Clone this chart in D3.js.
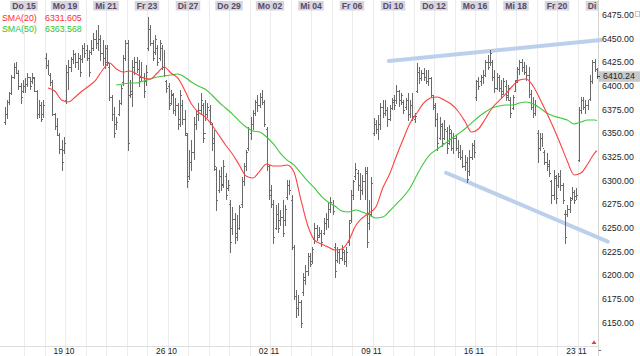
<!DOCTYPE html>
<html><head><meta charset="utf-8">
<script src="https://cdn.jsdelivr.net/npm/d3@7"></script>
<style>
body{margin:0;background:#fff}
svg{display:block}
text{font-family:"Liberation Sans",Arial,sans-serif}
</style>
</head><body>
<svg id="chart" width="640" height="356"></svg>
<script>
// ---------------- DATA ----------------
const dayLabels = ["Mi 14","Do 15","Fr 16","Mo 19","Di 20","Mi 21","Do 22","Fr 23","Mo 26","Di 27",
  "Mi 28","Do 29","Fr 30","Mo 02","Di 03","Mi 04","Do 05","Fr 06","Mo 09","Di 10",
  "Mi 11","Do 12","Fr 13","Mo 16","Di 17","Mi 18","Do 19","Fr 20","Mo 23","Di 24"];
const weekLabels = ["19 10","26 10","02 11","09 11","16 11","23 11"];
const weekLabelDays = [3, 8, 13, 18, 23, 28];
const barsPerDay = 9;
const yTicks = [6475,6450,6425,6400,6375,6350,6325,6300,6275,6250,6225,6200,6175,6150];

const barHigh = [
6378,6385,6394,6412,6424,6425,6417,6403,6406,
6408,6414,6410,6414,6410,6396,6385,6383,6385,
6435,6427,6414,6406,6371,6366,6350,6343,6346,
6422,6427,6431,6438,6435,6435,6433,6443,6445,
6443,6438,6449,6456,6459,6464,6454,6449,6443,
6443,6424,6391,6378,6367,6385,6401,6433,6449,
6449,6406,6427,6431,6431,6427,6425,6414,6422,
6473,6464,6449,6454,6443,6449,6443,6438,6406,
6403,6396,6393,6387,6382,6396,6385,6375,6350,
6332,6343,6367,6375,6382,6393,6382,6385,6382,
6380,6361,6354,6314,6311,6314,6322,6308,6301,
6280,6272,6266,6264,6274,6304,6319,6332,6357,
6367,6375,6385,6391,6393,6396,6385,6357,6317,
6295,6280,6274,6276,6269,6280,6274,6301,6301,
6285,6232,6185,6179,6174,6202,6211,6224,6224,
6230,6255,6253,6251,6248,6261,6266,6276,6283,
6280,6234,6230,6227,6232,6227,6230,6258,6290,
6301,6319,6311,6308,6306,6314,6314,6280,6304,
6366,6364,6369,6382,6385,6385,6378,6380,6387,
6391,6401,6396,6393,6385,6387,6393,6385,6393,
6371,6424,6420,6417,6419,6417,6417,6410,6391,
6382,6371,6367,6361,6364,6357,6359,6354,6350,
6348,6343,6338,6332,6327,6325,6332,6340,6343,
6406,6410,6412,6417,6427,6433,6438,6427,6417,
6414,6412,6406,6408,6406,6401,6388,6391,6406,
6420,6427,6429,6425,6422,6420,6396,6388,6385,
6354,6350,6350,6332,6329,6322,6301,6311,6306,
6308,6311,6298,6269,6274,6283,6293,6290,6292,
6378,6388,6388,6385,6385,6412,6427,6429,6419];
const barLow = [
6359,6366,6380,6391,6408,6413,6396,6382,6393,
6393,6399,6396,6403,6394,6366,6367,6362,6367,
6419,6412,6401,6369,6354,6348,6329,6311,6329,
6382,6396,6415,6424,6420,6417,6410,6425,6430,
6427,6410,6433,6438,6440,6438,6427,6422,6419,
6422,6385,6364,6346,6354,6369,6380,6401,6427,
6332,6388,6378,6412,6414,6399,6406,6388,6401,
6438,6443,6427,6433,6422,6427,6417,6410,6393,
6375,6380,6371,6369,6354,6357,6359,6348,6293,
6301,6311,6322,6354,6364,6371,6340,6364,6367,
6359,6332,6311,6269,6287,6290,6293,6280,6290,
6224,6243,6234,6237,6248,6272,6295,6311,6332,
6343,6354,6369,6373,6377,6380,6357,6311,6280,
6272,6234,6248,6245,6253,6241,6253,6280,6285,
6227,6174,6156,6158,6145,6179,6190,6200,6209,
6213,6234,6237,6240,6230,6243,6248,6251,6266,
6264,6198,6214,6213,6216,6211,6209,6232,6256,
6280,6301,6290,6280,6285,6280,6229,6248,6262,
6348,6350,6343,6354,6367,6369,6357,6364,6375,
6375,6382,6378,6380,6371,6375,6364,6367,6364,
6361,6393,6403,6406,6406,6403,6401,6388,6375,
6357,6332,6343,6336,6343,6329,6338,6332,6329,
6332,6325,6322,6314,6311,6298,6306,6322,6325,
6385,6396,6401,6403,6410,6417,6422,6406,6393,
6396,6394,6388,6391,6385,6385,6367,6375,6394,
6404,6412,6415,6412,6406,6388,6375,6367,6369,
6319,6332,6336,6317,6311,6304,6276,6280,6276,
6293,6290,6276,6234,6262,6266,6280,6276,6280,
6320,6371,6375,6371,6375,6385,6403,6415,6408];
const barOpen = [
6362,6370,6383,6393,6410,6420,6414,6400,6395,
6400,6402,6410,6405,6408,6395,6370,6380,6370,
6430,6422,6412,6404,6370,6358,6348,6333,6332,
6385,6415,6420,6428,6434,6425,6430,6428,6440,
6438,6430,6436,6440,6450,6445,6450,6435,6430,
6440,6420,6388,6370,6360,6370,6382,6404,6430,
6445,6390,6392,6420,6425,6418,6410,6410,6405,
6440,6460,6445,6436,6440,6430,6440,6420,6405,
6400,6382,6390,6375,6380,6365,6380,6365,6348,
6305,6320,6330,6360,6370,6375,6380,6350,6370,
6375,6360,6345,6312,6290,6305,6297,6305,6292,
6275,6250,6260,6245,6250,6275,6300,6315,6335,
6350,6360,6372,6383,6380,6388,6383,6355,6315,
6290,6275,6250,6265,6258,6262,6258,6283,6295,
6280,6230,6178,6165,6172,6182,6195,6205,6220,
6215,6238,6250,6243,6245,6245,6255,6260,6270,
6275,6230,6216,6225,6218,6225,6215,6235,6258,
6285,6305,6308,6295,6290,6300,6310,6255,6265,
6350,6360,6355,6360,6378,6372,6375,6365,6377,
6385,6385,6395,6385,6383,6378,6385,6370,6380,
6365,6395,6415,6408,6414,6410,6405,6408,6390,
6378,6365,6345,6358,6345,6352,6340,6350,6335,
6345,6335,6330,6325,6315,6320,6310,6325,6338,
6388,6405,6405,6410,6412,6425,6425,6425,6410,
6398,6410,6398,6395,6400,6390,6385,6377,6395,
6406,6418,6425,6420,6415,6412,6392,6378,6372,
6350,6335,6345,6330,6320,6318,6300,6285,6303,
6295,6305,6295,6265,6265,6270,6282,6288,6284,
6322,6375,6385,6378,6380,6386,6405,6425,6418];
const barClose = [
6370,6383,6393,6410,6420,6414,6400,6388,6400,
6402,6410,6400,6410,6395,6370,6380,6365,6380,
6422,6412,6404,6370,6358,6348,6333,6320,6340,
6415,6420,6428,6434,6425,6430,6415,6440,6435,
6430,6415,6440,6450,6445,6450,6435,6430,6425,
6425,6388,6370,6350,6362,6382,6398,6430,6445,
6340,6395,6420,6425,6418,6405,6410,6395,6415,
6460,6445,6430,6450,6425,6445,6420,6412,6398,
6380,6392,6375,6380,6360,6390,6365,6350,6300,
6320,6330,6360,6370,6375,6385,6345,6370,6378,
6362,6340,6315,6280,6305,6295,6315,6285,6295,
6235,6260,6240,6250,6272,6300,6315,6330,6355,
6360,6372,6383,6380,6388,6383,6360,6315,6285,
6275,6240,6265,6250,6262,6245,6270,6295,6290,
6230,6178,6165,6172,6150,6198,6205,6220,6212,
6228,6250,6240,6245,6235,6255,6260,6270,6278,
6268,6205,6225,6218,6228,6215,6225,6255,6285,
6300,6312,6295,6290,6300,6308,6235,6265,6298,
6360,6355,6360,6378,6372,6375,6365,6377,6383,
6380,6395,6385,6390,6375,6385,6370,6380,6368,
6368,6415,6408,6414,6410,6405,6408,6390,6380,
6365,6340,6360,6340,6355,6335,6355,6335,6345,
6335,6330,6325,6315,6320,6302,6325,6338,6330,
6405,6400,6410,6412,6425,6420,6435,6410,6398,
6410,6398,6392,6405,6388,6398,6372,6388,6404,
6418,6425,6420,6415,6412,6392,6378,6372,6380,
6335,6345,6335,6320,6315,6308,6285,6305,6282,
6305,6295,6280,6240,6270,6280,6288,6280,6285,
6375,6385,6378,6380,6386,6405,6425,6418,6410.24];

// Moving averages, one reading every third bar
const sma20Bars = d3.range(19, 260, 3).concat([260]);
const sma20 = [6397.9,6394.7,6385.2,6383.1,6388.4,6394.7,6400.0,6406.3,6416.9,6424.3,
6418.0,6414.8,6415.9,6412.7,6408.5,6407.4,6413.7,6420.1,6413.7,6408.5,
6395.8,6381.0,6372.5,6367.3,6358.8,6348.3,6337.7,6328.2,6316.6,6304.9,
6302.8,6310.2,6317.6,6315.5,6315.5,6316.6,6309.2,6280.6,6253.2,6237.4,
6233.1,6230.0,6226.8,6227.9,6236.3,6252.1,6260.6,6265.9,6272.2,6292.3,
6307.1,6326.1,6344.0,6360.9,6371.5,6382.1,6387.3,6388.4,6385.2,6381.0,
6373.6,6363.0,6351.4,6354.6,6365.2,6376.8,6384.2,6391.6,6400.0,6406.3,
6407.4,6400.0,6386.3,6371.5,6355.7,6338.8,6320.8,6306.0,6308.1,6317.6,
6329.2,6331.605];
const sma50Bars = d3.range(49, 260, 3).concat([260]);
const sma50 = [6401.1,6402.1,6403.2,6403.2,6405.3,6407.4,6409.5,6410.6,6411.6,6412.7,
6409.5,6404.2,6400.0,6396.8,6390.5,6383.1,6376.8,6370.4,6363.0,6356.7,
6352.5,6351.4,6346.1,6338.8,6329.2,6321.8,6316.6,6308.1,6299.7,6292.3,
6283.8,6277.5,6273.3,6268.0,6266.9,6269.0,6266.9,6263.8,6260.6,6261.6,
6268.0,6275.4,6282.8,6292.3,6306.0,6318.7,6328.2,6333.5,6338.8,6344.0,
6349.3,6354.6,6361.0,6367.3,6372.5,6376.8,6378.9,6379.9,6379.9,6382.1,
6383.1,6381.0,6376.8,6371.5,6368.3,6366.2,6364.1,6359.9,6362.0,6364.1,
6364.1,6363.568];

const legendNames = ["SMA(20)", "SMA(50)"];
const legendValues = ["6331.605", "6363.568"];
const lastPrice = 6410.24;

// hand-drawn trend lines: [bar slot, price]
const trendUpper = [[169.2, 6426.4], [262.3, 6448.6]];
const trendLower = [[194.3, 6308.4], [265.3, 6235.6]];

// ---------------- DRAW ----------------
const svg = d3.select("#chart");
const W = 640, H = 356;
const nBars = barHigh.length;
const x = d3.scaleLinear().domain([0, nBars]).range([3.5, 598]);
const y = d3.scaleLinear().domain([6150, 6475]).range([322.7, 15]);
const axisX = 598;

// day grid lines
const nDays = dayLabels.length;
svg.append("g").selectAll("line").data(d3.range(1, nDays)).join("line")
  .attr("x1", d => Math.round(x(d * barsPerDay)) + 0.5)
  .attr("x2", d => Math.round(x(d * barsPerDay)) + 0.5)
  .attr("y1", 0).attr("y2", H)
  .attr("stroke", "#ececec").attr("stroke-width", 1);

// bottom axis line
svg.append("line").attr("x1", 0).attr("x2", axisX).attr("y1", 346.5).attr("y2", 346.5)
  .attr("stroke", "#dedede");

// right axis line
svg.append("line").attr("x1", axisX + 0.5).attr("x2", axisX + 0.5).attr("y1", 0).attr("y2", H)
  .attr("stroke", "#d4d4d4");

// trend lines
const tline = d3.line().x(d => x(d[0])).y(d => y(d[1]));
[trendUpper, trendLower].forEach(t => {
  svg.append("path").attr("d", tline(t)).attr("fill", "none")
    .attr("stroke", "#bcd0ec").attr("stroke-width", 4).attr("stroke-linecap", "round");
});

// OHLC bars
const bars = svg.append("g").attr("stroke", "#6a6a6a").attr("stroke-width", 1).attr("shape-rendering", "crispEdges");
const idx = d3.range(nBars);
const bx = i => Math.round(x(i + 0.5)) + 0.5;
bars.selectAll("line.hl").data(idx).join("line").attr("class", "hl")
  .attr("x1", bx).attr("x2", bx)
  .attr("y1", i => y(barHigh[i])).attr("y2", i => y(barLow[i]) + 0.5);
bars.selectAll("line.o").data(idx).join("line").attr("class", "o")
  .attr("x1", i => bx(i) - 1.5).attr("x2", i => bx(i))
  .attr("y1", i => Math.round(y(barOpen[i])) + 0.5).attr("y2", i => Math.round(y(barOpen[i])) + 0.5);
bars.selectAll("line.c").data(idx).join("line").attr("class", "c")
  .attr("x1", i => bx(i)).attr("x2", i => bx(i) + 1.5)
  .attr("y1", i => Math.round(y(barClose[i])) + 0.5).attr("y2", i => Math.round(y(barClose[i])) + 0.5);

// moving averages
const maLine = d3.line().curve(d3.curveMonotoneX).x(d => x(d[0] + 0.5)).y(d => y(d[1]));
svg.append("path").attr("d", maLine(sma50Bars.map((b, k) => [b, sma50[k]])))
  .attr("fill", "none").attr("stroke", "#3ec83e").attr("stroke-width", 1.1);
svg.append("path").attr("d", maLine(sma20Bars.map((b, k) => [b, sma20[k]])))
  .attr("fill", "none").attr("stroke", "#ff4040").attr("stroke-width", 1.1);

// y axis labels
const yAx = svg.append("g");
yAx.selectAll("text").data(yTicks).join("text")
  .attr("x", 602).attr("y", d => y(d)).attr("dy", "0.35em")
  .attr("font-size", 8.8).attr("fill", "#222")
  .text(d => d3.format(".2f")(d));
// small icon top right
svg.append("rect").attr("x", 635.5).attr("y", 11.5).attr("width", 4).attr("height", 5)
  .attr("fill", "none").attr("stroke", "#c8c8c8");

// last price marker
const ly = y(lastPrice);
svg.append("rect").attr("x", 599).attr("y", ly - 5).attr("width", 41).attr("height", 10.5).attr("fill", "#c9c9c9");
svg.append("line").attr("x1", 597).attr("x2", 600).attr("y1", Math.round(ly) + 0.5).attr("y2", Math.round(ly) + 0.5).attr("stroke", "#444");
svg.append("text").attr("x", 603).attr("y", ly).attr("dy", "0.35em").attr("font-size", 8.8).attr("fill", "#222")
  .text(d3.format(".2f")(lastPrice));

// top day labels (every second day)
const topG = svg.append("g");
const clip = svg.append("clipPath").attr("id", "topclip");
clip.append("rect").attr("x", 0).attr("y", 0).attr("width", axisX).attr("height", 20);
topG.attr("clip-path", "url(#topclip)");
d3.range(1, nDays, 2).forEach(d => {
  const cx = x(d * barsPerDay);
  const g = topG.append("g");
  const t = g.append("text").attr("x", cx).attr("y", 9).attr("text-anchor", "middle")
    .attr("font-size", 8.6).attr("font-weight", "bold").attr("fill", "#584a66").text(dayLabels[d]);
  const w = t.node().getComputedTextLength();
  g.insert("rect", "text").attr("x", cx - w / 2 - 2).attr("y", 1).attr("width", w + 4).attr("height", 9.5)
    .attr("fill", "#d7d5dd");
});

// bottom week labels
svg.append("g").selectAll("text").data(weekLabelDays).join("text")
  .attr("x", d => x(d * barsPerDay) - 1).attr("y", 354).attr("text-anchor", "middle")
  .attr("font-size", 8.4).attr("fill", "#222")
  .text((d, k) => weekLabels[k]);
svg.append("path").attr("d", "M591.5,344 L594,340.5 L596.5,344 Z").attr("fill", "#e04040");
svg.append("text").attr("x", 598.5).attr("y", 353).attr("font-size", 8.4).attr("fill", "#222").text("-");

// legend
const legColors = ["#ff2a2a", "#2fc42f"];
legendNames.forEach((n, k) => {
  svg.append("text").attr("x", 2).attr("y", 21 + k * 10.5).attr("font-size", 8.8).attr("fill", legColors[k]).text(n);
  svg.append("text").attr("x", 45).attr("y", 21 + k * 10.5).attr("font-size", 8.8).attr("fill", legColors[k]).text(legendValues[k]);
});
</script>
</body></html>
